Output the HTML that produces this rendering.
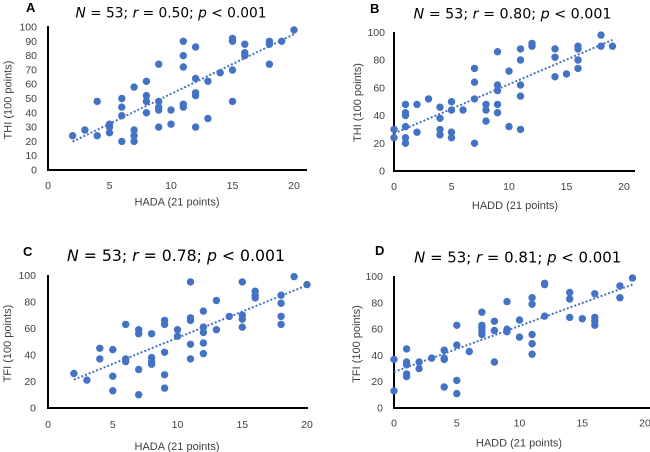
<!DOCTYPE html>
<html><head><meta charset="utf-8"><style>
html,body{margin:0;padding:0;background:#fff;}
svg{display:block;}
.t{font-family:"Liberation Sans",Arial,sans-serif;font-size:10.5px;fill:#404040;}
.al{font-family:"Liberation Sans",Arial,sans-serif;font-size:11px;fill:#404040;}
.tt{font-family:"DejaVu Sans",Verdana,sans-serif;fill:#000;}
.lt{font-family:"Liberation Sans",Arial,sans-serif;font-weight:bold;font-size:13px;fill:#000;}
.d circle{fill:#4472C4;}
.tr{stroke:#4472C4;stroke-width:2;stroke-dasharray:2,2;fill:none;}
.ax{stroke:#000;stroke-width:2;fill:none;}
</style></head><body>
<svg width="650" height="452" viewBox="0 0 650 452" xmlns="http://www.w3.org/2000/svg">
<!-- Panel A -->
<text class="lt" x="26" y="12">A</text>
<text class="tt" x="171" y="17.7" text-anchor="middle" font-size="14" textLength="191" lengthAdjust="spacingAndGlyphs"><tspan font-style="italic">N</tspan> = 53; <tspan font-style="italic">r</tspan> = 0.50; <tspan font-style="italic">p</tspan> &lt; 0.001</text>
<g class="t" text-anchor="end">
<text x="37" y="173.5">0</text><text x="37" y="159.2">10</text><text x="37" y="144.9">20</text><text x="37" y="130.6">30</text><text x="37" y="116.3">40</text><text x="37" y="102">50</text><text x="37" y="87.7">60</text><text x="37" y="73.4">70</text><text x="37" y="59.1">80</text><text x="37" y="44.8">90</text><text x="37" y="30.5">100</text>
</g>
<g class="t" text-anchor="middle">
<text x="48" y="189">0</text><text x="109.5" y="189">5</text><text x="171" y="189">10</text><text x="232.5" y="189">15</text><text x="294" y="189">20</text>
</g>
<text class="al" x="177" y="205.5" text-anchor="middle">HADA (21 points)</text>
<text class="al" transform="translate(11.5,100) rotate(-90)" text-anchor="middle">THI (100 points)</text>
<path class="ax" d="M48 26V170H307"/>
<g class="d">
<circle cx="72.6" cy="135.7" r="3.7"/><circle cx="84.9" cy="130" r="3.7"/><circle cx="97.2" cy="101.4" r="3.7"/><circle cx="97.2" cy="135.7" r="3.7"/>
<circle cx="109.5" cy="124.2" r="3.7"/><circle cx="109.5" cy="127.1" r="3.7"/><circle cx="109.5" cy="132.8" r="3.7"/>
<circle cx="121.8" cy="98.5" r="3.7"/><circle cx="121.8" cy="107.1" r="3.7"/><circle cx="121.8" cy="115.7" r="3.7"/><circle cx="121.8" cy="141.4" r="3.7"/>
<circle cx="134.1" cy="87.1" r="3.7"/><circle cx="134.1" cy="130" r="3.7"/><circle cx="134.1" cy="135.7" r="3.7"/><circle cx="134.1" cy="141.4" r="3.7"/>
<circle cx="146.4" cy="81.3" r="3.7"/><circle cx="146.4" cy="95.6" r="3.7"/><circle cx="146.4" cy="101.4" r="3.7"/><circle cx="146.4" cy="112.8" r="3.7"/>
<circle cx="158.7" cy="64.2" r="3.7"/><circle cx="158.7" cy="101.4" r="3.7"/><circle cx="158.7" cy="107.1" r="3.7"/><circle cx="158.7" cy="110" r="3.7"/><circle cx="158.7" cy="127.1" r="3.7"/>
<circle cx="171" cy="110" r="3.7"/><circle cx="171" cy="124.2" r="3.7"/>
<circle cx="183.3" cy="41.3" r="3.7"/><circle cx="183.3" cy="55.6" r="3.7"/><circle cx="183.3" cy="67" r="3.7"/><circle cx="183.3" cy="104.2" r="3.7"/><circle cx="183.3" cy="107.1" r="3.7"/>
<circle cx="195.6" cy="47" r="3.7"/><circle cx="195.6" cy="78.5" r="3.7"/><circle cx="195.6" cy="92.8" r="3.7"/><circle cx="195.6" cy="95.6" r="3.7"/><circle cx="195.6" cy="127.1" r="3.7"/>
<circle cx="207.9" cy="81.3" r="3.7"/><circle cx="207.9" cy="118.5" r="3.7"/>
<circle cx="220.2" cy="72.8" r="3.7"/>
<circle cx="232.5" cy="38.4" r="3.7"/><circle cx="232.5" cy="41.3" r="3.7"/><circle cx="232.5" cy="70" r="3.7"/><circle cx="232.5" cy="101.4" r="3.7"/>
<circle cx="244.8" cy="44.2" r="3.7"/><circle cx="244.8" cy="52.7" r="3.7"/><circle cx="244.8" cy="55.6" r="3.7"/>
<circle cx="269.4" cy="41.3" r="3.7"/><circle cx="269.4" cy="44.2" r="3.7"/><circle cx="269.4" cy="64.2" r="3.7"/>
<circle cx="281.7" cy="41.3" r="3.7"/><circle cx="294" cy="29.9" r="3.7"/>
</g>
<path class="tr" d="M72.6 141.7L294 34.2"/>

<!-- Panel B -->
<text class="lt" x="370" y="13">B</text>
<text class="tt" x="512.5" y="18.3" text-anchor="middle" font-size="14.3" textLength="198" lengthAdjust="spacingAndGlyphs"><tspan font-style="italic">N</tspan> = 53; <tspan font-style="italic">r</tspan> = 0.80; <tspan font-style="italic">p</tspan> &lt; 0.001</text>
<g class="t" text-anchor="end">
<text x="385" y="174.5">0</text><text x="385" y="146.8">20</text><text x="385" y="119">40</text><text x="385" y="91.3">60</text><text x="385" y="63.6">80</text><text x="385" y="35.8">100</text>
</g>
<g class="t" text-anchor="middle">
<text x="394" y="190">0</text><text x="451.5" y="190">5</text><text x="509" y="190">10</text><text x="566.5" y="190">15</text><text x="624" y="190">20</text>
</g>
<text class="al" x="515" y="209" text-anchor="middle">HADD (21 points)</text>
<text class="al" transform="translate(361,102.5) rotate(-90)" text-anchor="middle">THI (100 points)</text>
<path class="ax" d="M394 32V171H635"/>
<g class="d">
<circle cx="394" cy="129.4" r="3.7"/><circle cx="394" cy="137.7" r="3.7"/>
<circle cx="405.5" cy="104.4" r="3.7"/><circle cx="405.5" cy="112.7" r="3.7"/><circle cx="405.5" cy="115.5" r="3.7"/><circle cx="405.5" cy="126.6" r="3.7"/><circle cx="405.5" cy="137.7" r="3.7"/><circle cx="405.5" cy="143.3" r="3.7"/>
<circle cx="417" cy="104.4" r="3.7"/><circle cx="417" cy="132.2" r="3.7"/>
<circle cx="428.5" cy="98.9" r="3.7"/>
<circle cx="440" cy="107.2" r="3.7"/><circle cx="440" cy="118.3" r="3.7"/><circle cx="440" cy="129.4" r="3.7"/><circle cx="440" cy="134.9" r="3.7"/>
<circle cx="451.5" cy="101.7" r="3.7"/><circle cx="451.5" cy="110" r="3.7"/><circle cx="451.5" cy="132.2" r="3.7"/><circle cx="451.5" cy="137.7" r="3.7"/>
<circle cx="463" cy="110" r="3.7"/>
<circle cx="474.5" cy="68.4" r="3.7"/><circle cx="474.5" cy="82.2" r="3.7"/><circle cx="474.5" cy="98.9" r="3.7"/><circle cx="474.5" cy="143.3" r="3.7"/>
<circle cx="486" cy="104.4" r="3.7"/><circle cx="486" cy="110" r="3.7"/><circle cx="486" cy="121.1" r="3.7"/>
<circle cx="497.5" cy="51.7" r="3.7"/><circle cx="497.5" cy="85" r="3.7"/><circle cx="497.5" cy="90.6" r="3.7"/><circle cx="497.5" cy="104.4" r="3.7"/><circle cx="497.5" cy="112.7" r="3.7"/>
<circle cx="509" cy="71.1" r="3.7"/><circle cx="509" cy="126.6" r="3.7"/>
<circle cx="520.5" cy="48.9" r="3.7"/><circle cx="520.5" cy="60" r="3.7"/><circle cx="520.5" cy="85" r="3.7"/><circle cx="520.5" cy="96.1" r="3.7"/><circle cx="520.5" cy="129.4" r="3.7"/>
<circle cx="532" cy="43.4" r="3.7"/><circle cx="532" cy="46.2" r="3.7"/>
<circle cx="555" cy="48.9" r="3.7"/><circle cx="555" cy="57.3" r="3.7"/><circle cx="555" cy="76.7" r="3.7"/>
<circle cx="566.5" cy="73.9" r="3.7"/>
<circle cx="578" cy="46.2" r="3.7"/><circle cx="578" cy="48.9" r="3.7"/><circle cx="578" cy="60" r="3.7"/><circle cx="578" cy="68.4" r="3.7"/>
<circle cx="601" cy="35.1" r="3.7"/><circle cx="601" cy="46.2" r="3.7"/><circle cx="612.5" cy="46.2" r="3.7"/>
</g>
<path class="tr" d="M394 133.5L612.5 39.9"/>

<!-- Panel C -->
<text class="lt" x="23" y="256">C</text>
<text class="tt" x="176" y="261" text-anchor="middle" font-size="15.7" textLength="218" lengthAdjust="spacingAndGlyphs"><tspan font-style="italic">N</tspan> = 53; <tspan font-style="italic">r</tspan> = 0.78; <tspan font-style="italic">p</tspan> &lt; 0.001</text>
<g class="t" text-anchor="end">
<text x="36" y="411.5">0</text><text x="36" y="385">20</text><text x="36" y="358.4">40</text><text x="36" y="331.9">60</text><text x="36" y="305.3">80</text><text x="36" y="278.8">100</text>
</g>
<g class="t" text-anchor="middle">
<text x="48" y="428">0</text><text x="112.8" y="428">5</text><text x="177.5" y="428">10</text><text x="242.3" y="428">15</text><text x="307" y="428">20</text>
</g>
<text class="al" x="177" y="450" text-anchor="middle">HADA (21 points)</text>
<text class="al" transform="translate(11,343.5) rotate(-90)" text-anchor="middle">TFI (100 points)</text>
<path class="ax" d="M48 275V408H308"/>
<g class="d">
<circle cx="73.9" cy="373.5" r="3.7"/><circle cx="86.9" cy="380.1" r="3.7"/>
<circle cx="99.8" cy="348.3" r="3.7"/><circle cx="99.8" cy="358.9" r="3.7"/>
<circle cx="112.8" cy="349.6" r="3.7"/><circle cx="112.8" cy="376.2" r="3.7"/><circle cx="112.8" cy="390.7" r="3.7"/>
<circle cx="125.7" cy="324.4" r="3.7"/><circle cx="125.7" cy="358.9" r="3.7"/><circle cx="125.7" cy="361.6" r="3.7"/>
<circle cx="138.7" cy="329.7" r="3.7"/><circle cx="138.7" cy="333.7" r="3.7"/><circle cx="138.7" cy="369.5" r="3.7"/><circle cx="138.7" cy="394.7" r="3.7"/>
<circle cx="151.6" cy="333.7" r="3.7"/><circle cx="151.6" cy="357.6" r="3.7"/><circle cx="151.6" cy="361.6" r="3.7"/><circle cx="151.6" cy="364.2" r="3.7"/>
<circle cx="164.6" cy="320.4" r="3.7"/><circle cx="164.6" cy="324.4" r="3.7"/><circle cx="164.6" cy="352.3" r="3.7"/><circle cx="164.6" cy="374.8" r="3.7"/><circle cx="164.6" cy="388.1" r="3.7"/>
<circle cx="177.5" cy="329.7" r="3.7"/><circle cx="177.5" cy="336.3" r="3.7"/>
<circle cx="190.5" cy="281.9" r="3.7"/><circle cx="190.5" cy="317.8" r="3.7"/><circle cx="190.5" cy="320.4" r="3.7"/><circle cx="190.5" cy="344.3" r="3.7"/><circle cx="190.5" cy="358.9" r="3.7"/>
<circle cx="203.4" cy="311.1" r="3.7"/><circle cx="203.4" cy="327.1" r="3.7"/><circle cx="203.4" cy="332.4" r="3.7"/><circle cx="203.4" cy="343" r="3.7"/><circle cx="203.4" cy="353.6" r="3.7"/>
<circle cx="216.4" cy="300.5" r="3.7"/><circle cx="216.4" cy="329.7" r="3.7"/>
<circle cx="229.3" cy="316.4" r="3.7"/>
<circle cx="242.3" cy="281.9" r="3.7"/><circle cx="242.3" cy="315.1" r="3.7"/><circle cx="242.3" cy="319.1" r="3.7"/><circle cx="242.3" cy="327.1" r="3.7"/>
<circle cx="255.2" cy="291.2" r="3.7"/><circle cx="255.2" cy="295.2" r="3.7"/><circle cx="255.2" cy="297.9" r="3.7"/>
<circle cx="281.1" cy="295.2" r="3.7"/><circle cx="281.1" cy="303.2" r="3.7"/><circle cx="281.1" cy="316.4" r="3.7"/><circle cx="281.1" cy="324.4" r="3.7"/>
<circle cx="294.1" cy="276.6" r="3.7"/><circle cx="307" cy="284.6" r="3.7"/>
</g>
<path class="tr" d="M73.9 379.7L307 285.3"/>

<!-- Panel D -->
<text class="lt" x="375" y="255">D</text>
<text class="tt" x="517.7" y="262.7" text-anchor="middle" font-size="14.9" textLength="207" lengthAdjust="spacingAndGlyphs"><tspan font-style="italic">N</tspan> = 53; <tspan font-style="italic">r</tspan> = 0.81; <tspan font-style="italic">p</tspan> &lt; 0.001</text>
<g class="t" text-anchor="end">
<text x="383" y="411.5">0</text><text x="383" y="385.2">20</text><text x="383" y="359">40</text><text x="383" y="332.7">60</text><text x="383" y="306.5">80</text><text x="383" y="280.2">100</text>
</g>
<g class="t" text-anchor="middle">
<text x="394" y="426.5">0</text><text x="456.8" y="426.5">5</text><text x="519.5" y="426.5">10</text><text x="582.3" y="426.5">15</text><text x="645" y="426.5">20</text>
</g>
<text class="al" x="519" y="446.5" text-anchor="middle">HADD (21 points)</text>
<text class="al" transform="translate(360,344) rotate(-90)" text-anchor="middle">TFI (100 points)</text>
<path class="ax" d="M394 276V408H650"/>
<g class="d">
<circle cx="394" cy="359.4" r="3.7"/><circle cx="394" cy="390.9" r="3.7"/>
<circle cx="406.6" cy="348.9" r="3.7"/><circle cx="406.6" cy="362" r="3.7"/><circle cx="406.6" cy="364.7" r="3.7"/><circle cx="406.6" cy="373.9" r="3.7"/><circle cx="406.6" cy="376.5" r="3.7"/>
<circle cx="419.1" cy="362" r="3.7"/><circle cx="419.1" cy="368.6" r="3.7"/>
<circle cx="431.7" cy="358.1" r="3.7"/>
<circle cx="444.2" cy="350.2" r="3.7"/><circle cx="444.2" cy="358.1" r="3.7"/><circle cx="444.2" cy="359.4" r="3.7"/><circle cx="444.2" cy="387" r="3.7"/>
<circle cx="456.8" cy="325.3" r="3.7"/><circle cx="456.8" cy="345" r="3.7"/><circle cx="456.8" cy="380.4" r="3.7"/><circle cx="456.8" cy="393.6" r="3.7"/>
<circle cx="469.3" cy="351.5" r="3.7"/>
<circle cx="481.9" cy="312.2" r="3.7"/><circle cx="481.9" cy="325.3" r="3.7"/><circle cx="481.9" cy="327.9" r="3.7"/><circle cx="481.9" cy="331.8" r="3.7"/><circle cx="481.9" cy="334.5" r="3.7"/>
<circle cx="494.4" cy="321.3" r="3.7"/><circle cx="494.4" cy="330.5" r="3.7"/><circle cx="494.4" cy="362" r="3.7"/>
<circle cx="507" cy="301.6" r="3.7"/><circle cx="507" cy="329.2" r="3.7"/><circle cx="507" cy="331.8" r="3.7"/>
<circle cx="519.5" cy="320" r="3.7"/><circle cx="519.5" cy="337.1" r="3.7"/>
<circle cx="532.1" cy="297.7" r="3.7"/><circle cx="532.1" cy="304.3" r="3.7"/><circle cx="532.1" cy="334.5" r="3.7"/><circle cx="532.1" cy="343.7" r="3.7"/><circle cx="532.1" cy="354.2" r="3.7"/>
<circle cx="544.6" cy="283.3" r="3.7"/><circle cx="544.6" cy="284.6" r="3.7"/><circle cx="544.6" cy="316.1" r="3.7"/>
<circle cx="569.7" cy="292.5" r="3.7"/><circle cx="569.7" cy="299" r="3.7"/><circle cx="569.7" cy="317.4" r="3.7"/>
<circle cx="582.3" cy="318.7" r="3.7"/>
<circle cx="594.8" cy="293.8" r="3.7"/><circle cx="594.8" cy="317.4" r="3.7"/><circle cx="594.8" cy="321.3" r="3.7"/><circle cx="594.8" cy="325.3" r="3.7"/>
<circle cx="619.9" cy="285.9" r="3.7"/><circle cx="619.9" cy="297.7" r="3.7"/>
<circle cx="632.5" cy="278" r="3.7"/>
</g>
<path class="tr" d="M394 371.9L632.5 284.6"/>
</svg>
</body></html>
